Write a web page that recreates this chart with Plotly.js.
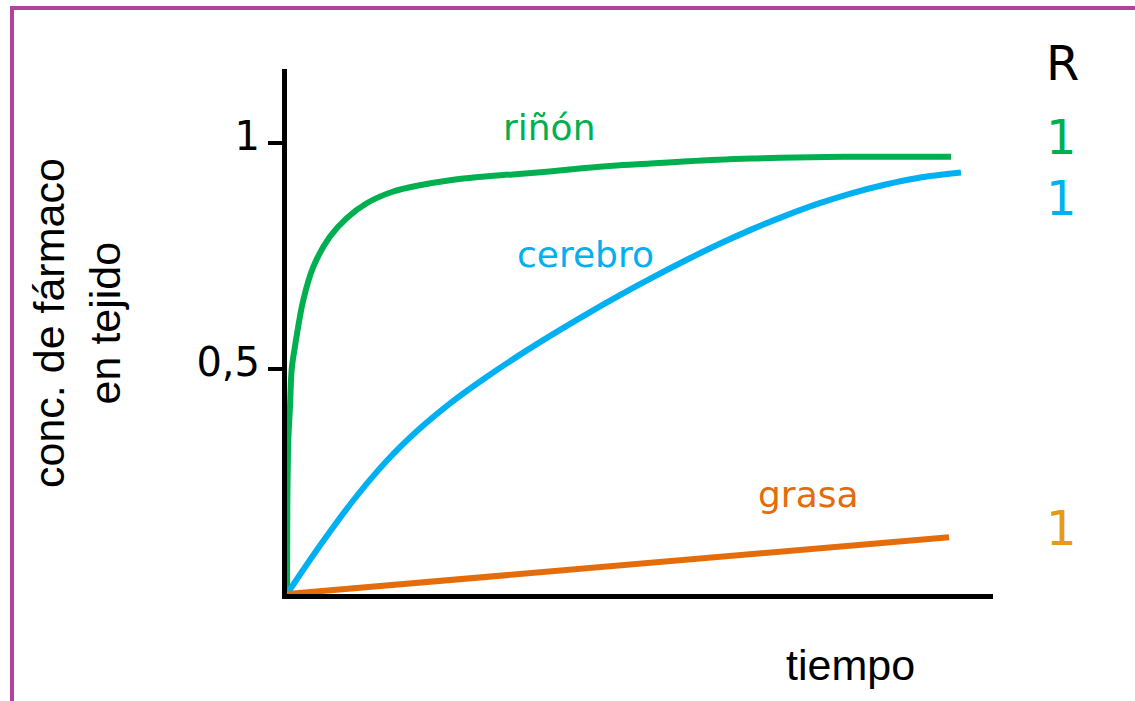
<!DOCTYPE html>
<html>
<head>
<meta charset="utf-8">
<script src="https://cdn.plot.ly/plotly-3.0.1.min.js"></script>
<style>
  html, body { margin: 0; padding: 0; background: #ffffff; }
  #chart { width: 1135px; height: 701px; }
</style>
</head>
<body>
<div id="chart"></div>
<script>
// ---- data ----
var rinonT = [0, 0.05, 0.2, 0.45, 0.71, 1.2, 2.45, 3.96, 6.48, 9.0, 12.0, 16.0, 20.0, 24.05, 28.8, 34.0, 39.1, 44.1, 49.0, 54.7, 59.2, 64.0, 69.7, 74.2, 84.8, 100];
var rinonV = [0, 0.194, 0.342, 0.416, 0.499, 0.549, 0.652, 0.726, 0.793, 0.834, 0.867, 0.893, 0.907, 0.917, 0.925, 0.931, 0.937, 0.944, 0.950, 0.955, 0.959, 0.963, 0.966, 0.968, 0.970, 0.970];

var cerebroT = [0, 5, 10, 15, 20, 25, 30, 35, 40, 45, 50, 55, 60, 65, 70, 75, 80, 85, 90, 95, 101.5];
var cerebroV = [0, 0.108, 0.208, 0.295, 0.367, 0.428, 0.481, 0.530, 0.576, 0.620, 0.662, 0.702, 0.740, 0.776, 0.809, 0.839, 0.866, 0.889, 0.908, 0.923, 0.935];

var grasaT = [0, 99.7];
var grasaV = [0, 0.126];

var seriesNames = ['riñón', 'cerebro', 'grasa'];
var seriesColors = ['#00b050', '#00b0f0', '#e46c0a'];
var rightHeader = 'R';
var rightLabels = ['1', '1', '1'];
var rightLabelColors = ['#00b050', '#00b0f0', '#e49c12'];

var yTickVals = [0.5, 1];
var yTickText = ['0,5', '1'];
var xTitle = 'tiempo';
var yTitle = 'conc. de fármaco<br>en tejido';

// ---- layout geometry (pixels of the 1135x701 page) ----
var W = 1135, H = 701;
var M = {l: 287, r: 142, t: 69, b: 107};
var plotW = W - M.l - M.r, plotH = H - M.t - M.b;
function px(xp) { return (xp - M.l) / plotW; }
function py(yp) { return (H - M.b - yp) / plotH; }

var traces = [
  {x: rinonT, y: rinonV, name: seriesNames[0]},
  {x: cerebroT, y: cerebroV, name: seriesNames[1]},
  {x: grasaT, y: grasaV, name: seriesNames[2]}
].map(function (s, i) {
  return {
    type: 'scatter', mode: 'lines', x: s.x, y: s.y, name: s.name,
    line: {color: seriesColors[i], width: 6, shape: 'spline', smoothing: 1},
    hoverinfo: 'skip'
  };
});

var labelFont = {family: 'DejaVu Sans, Verdana, sans-serif', size: 36};
var bigFont = 'DejaVu Sans, Verdana, sans-serif';
var textFont = 'Liberation Sans, Arial, sans-serif';
var annotations = [
  {x: 39.4, y: 1.034, xref: 'x', yref: 'y', text: seriesNames[0], font: Object.assign({}, labelFont, {color: seriesColors[0]})},
  {x: 45.0, y: 0.754, xref: 'x', yref: 'y', text: seriesNames[1], font: Object.assign({}, labelFont, {color: seriesColors[1]})},
  {x: 78.5, y: 0.22, xref: 'x', yref: 'y', text: seriesNames[2], font: Object.assign({}, labelFont, {color: seriesColors[2]})},
  {x: px(1062), y: py(63), xref: 'paper', yref: 'paper', text: rightHeader, font: {family: bigFont, size: 48, color: '#000000'}},
  {x: px(1061), y: py(137), xref: 'paper', yref: 'paper', text: rightLabels[0], font: {family: bigFont, size: 48, color: rightLabelColors[0]}},
  {x: px(1061), y: py(198), xref: 'paper', yref: 'paper', text: rightLabels[1], font: {family: bigFont, size: 48, color: rightLabelColors[1]}},
  {x: px(1061), y: py(528), xref: 'paper', yref: 'paper', text: rightLabels[2], font: {family: bigFont, size: 48, color: rightLabelColors[2]}},
  {x: px(850), y: py(665), xref: 'paper', yref: 'paper', text: xTitle, font: {family: textFont, size: 43, color: '#000000'}},
  {x: px(77), y: py(323), xref: 'paper', yref: 'paper', text: yTitle, textangle: -90, font: {family: textFont, size: 43, color: '#000000'}}
].map(function (a) {
  return Object.assign({showarrow: false, xanchor: 'center', yanchor: 'middle'}, a);
});

var borderColor = '#b0449c';
var shapes = [
  {type: 'line', xref: 'paper', yref: 'paper', x0: px(12), x1: px(W + 5), y0: py(8), y1: py(8), line: {color: borderColor, width: 4}},
  {type: 'line', xref: 'paper', yref: 'paper', x0: px(12), x1: px(12), y0: py(6), y1: py(H + 5), line: {color: borderColor, width: 4}}
];

var layout = {
  width: W, height: H,
  margin: M,
  paper_bgcolor: '#ffffff', plot_bgcolor: '#ffffff',
  showlegend: false,
  xaxis: {
    range: [0, plotW / 6.64], showgrid: false, zeroline: false,
    showline: true, linecolor: '#000000', linewidth: 5,
    showticklabels: false, ticks: '', fixedrange: true
  },
  yaxis: {
    range: [0, plotH / 450.7], showgrid: false, zeroline: false,
    showline: true, linecolor: '#000000', linewidth: 5,
    tickmode: 'array', tickvals: yTickVals, ticktext: yTickText,
    ticks: 'outside', ticklen: 14, tickwidth: 4, tickcolor: '#000000',
    ticklabelshift: -7,
    tickfont: {family: bigFont, size: 40, color: '#000000'},
    fixedrange: true
  },
  annotations: annotations,
  shapes: shapes
};

Plotly.newPlot('chart', traces, layout, {displayModeBar: false, staticPlot: true});
</script>
</body>
</html>
